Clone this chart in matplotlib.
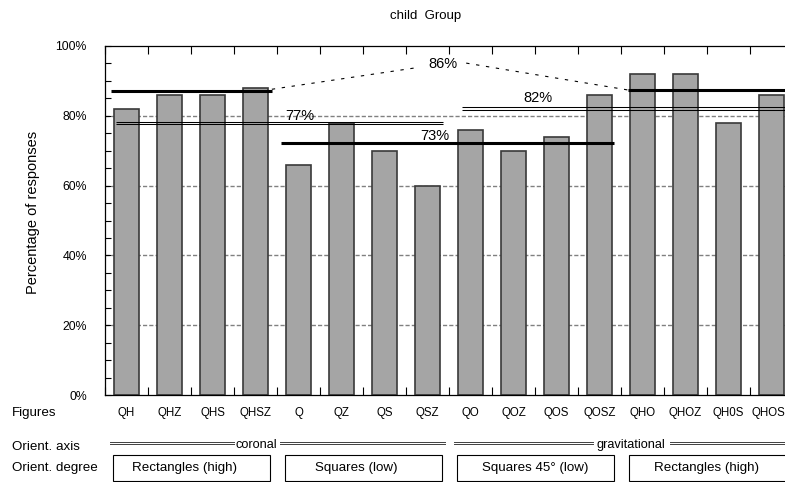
import matplotlib
matplotlib.use("Agg")
import matplotlib.pyplot as plt
from matplotlib.patches import Rectangle
from matplotlib.ticker import MultipleLocator, FixedLocator, FuncFormatter
import numpy as np

plt.rcParams['font.family'] = ['Liberation Sans', 'DejaVu Sans']

figures = ['QH', 'QHZ', 'QHS', 'QHSZ', 'Q', 'QZ', 'QS', 'QSZ',
           'QO', 'QOZ', 'QOS', 'QOSZ', 'QHO', 'QHOZ', 'QH0S', 'QHOSZ']
responses = [82, 86, 86, 88, 66, 78, 70, 60, 76, 70, 74, 86, 92, 92, 78, 86]

# group means
high_mean = 86
coronal_mean = 77
gravit_mean = 82
low_mean = 73
axis_groups = [('coronal', 0, 7), ('gravitational', 8, 15)]
degree_groups = [('Rectangles (high)', 0, 3), ('Squares (low)', 4, 7),
                 ('Squares 45° (low)', 8, 11), ('Rectangles (high)', 12, 15)]

W, H = 785, 482
fig = plt.figure(figsize=(W / 100, H / 100), dpi=100)
ax = fig.add_axes([105 / W, 87 / H, 688 / W, 349 / H])

x = np.arange(len(figures))
ax.bar(x, responses, width=0.6, color='#a5a5a5', edgecolor='#3a3a3a',
       linewidth=1.2, zorder=2)

ax.set_xlim(-0.5, len(figures) - 0.5)
ax.set_ylim(0, 100)
ax.yaxis.set_major_locator(MultipleLocator(20))
ax.yaxis.set_minor_locator(MultipleLocator(5))
ax.yaxis.set_major_formatter(FuncFormatter(lambda v, p: '%d%%' % v))
ax.set_xticks(x)
ax.set_xticklabels(figures)
ax.xaxis.set_minor_locator(FixedLocator(np.arange(-0.5, len(figures), 1)))
ax.tick_params(axis='x', which='major', length=0, pad=8.5, labelsize=8.3)
ax.tick_params(axis='x', which='minor', direction='in', length=6,
               top=True, bottom=True, width=0.8)
ax.tick_params(axis='y', which='both', direction='in', length=4.5,
               width=0.8, pad=13, labelsize=8.8)
for s in ax.spines.values():
    s.set_linewidth(0.9)

for g in [20, 40, 60, 80]:
    ax.axhline(g, color='#808080', lw=1, ls=(0, (3, 1.5)), zorder=1)

# high group mean: thick lines joined by a dashed arc through the label
ax.hlines(high_mean + 1.1, -0.35, 3.38, color='black', lw=2.2, zorder=3)
ax.hlines(high_mean + 1.4, 11.66, 15.6, color='black', lw=2.2, zorder=3)
ax.plot([3.38, 6.7], [high_mean + 1.6, high_mean + 7.7], color='black',
        lw=0.8, ls=(0, (3, 6)), zorder=3)
ax.plot([7.9, 11.66], [high_mean + 9.1, high_mean + 1.4], color='black',
        lw=0.8, ls=(0, (3, 6)), zorder=3)
ax.text(7.36, high_mean + 8.8, '%d%%' % high_mean, ha='center',
        va='center', fontsize=10.5)

# orientation axis means: double lines
for dy in (0.3, -0.3):
    ax.hlines(coronal_mean + 0.9 + dy, -0.24, 7.36, color='black', lw=0.75,
              zorder=3)
    ax.hlines(gravit_mean + 0.1 + dy, 7.8, 15.6, color='black', lw=0.75,
              zorder=3)
ax.text(4.03, coronal_mean + 3, '%d%%' % coronal_mean, ha='center',
        va='center', fontsize=10.5)
ax.text(9.57, gravit_mean + 3.1, '%d%%' % gravit_mean, ha='center',
        va='center', fontsize=10.5)

# low group mean
ax.hlines(low_mean - 0.7, 3.59, 11.34, color='black', lw=2.2, zorder=3)
ax.text(7.17, low_mean + 1.2, '%d%%' % low_mean, ha='center',
        va='center', fontsize=10.5)

# table below the axes
trans = ax.get_xaxis_transform()
for name, a, b in axis_groups:
    left, right = a - 0.38, b + 0.4
    mid = (a + b) / 2 - 0.47 if a == 0 else (a + b) / 2 + 0.24
    half = 0.53 if a == 0 else 0.9
    for dy in (0.0028, -0.0028):
        ax.plot([left, mid - half], [-0.1375 + dy] * 2, color='#404040',
                lw=0.7, transform=trans, clip_on=False)
        ax.plot([mid + half, right], [-0.1375 + dy] * 2, color='#404040',
                lw=0.7, transform=trans, clip_on=False)
    ax.text(mid, -0.143, name, ha='center', va='center', fontsize=9.2,
            transform=trans)

for name, a, b in degree_groups:
    left = a - 0.31
    right = b + 0.33
    ax.add_patch(Rectangle((left, -0.246), right - left, 0.074,
                           transform=trans, clip_on=False, fill=False,
                           edgecolor='black', lw=0.8))
    shift = -0.15 if a < 8 else 0.0
    ax.text((a + b) / 2 + shift, -0.209, name, ha='center', va='center',
            fontsize=9.6, transform=trans)

fig.text(12 / W, 1 - 413 / H, 'Figures', ha='left', va='center',
         fontsize=9.6)
fig.text(12 / W, 1 - 447 / H, 'Orient. axis', ha='left', va='center',
         fontsize=9.6)
fig.text(12 / W, 1 - 468 / H, 'Orient. degree', ha='left', va='center',
         fontsize=9.6)
fig.text(33 / W, 1 - 212 / H, 'Percentage of responses', rotation=90,
         ha='center', va='center', fontsize=10.5)
fig.text(426 / W, 1 - 16 / H, 'child  Group', ha='center', va='center',
         fontsize=9.5)

fig.savefig('out.png', dpi=100)
